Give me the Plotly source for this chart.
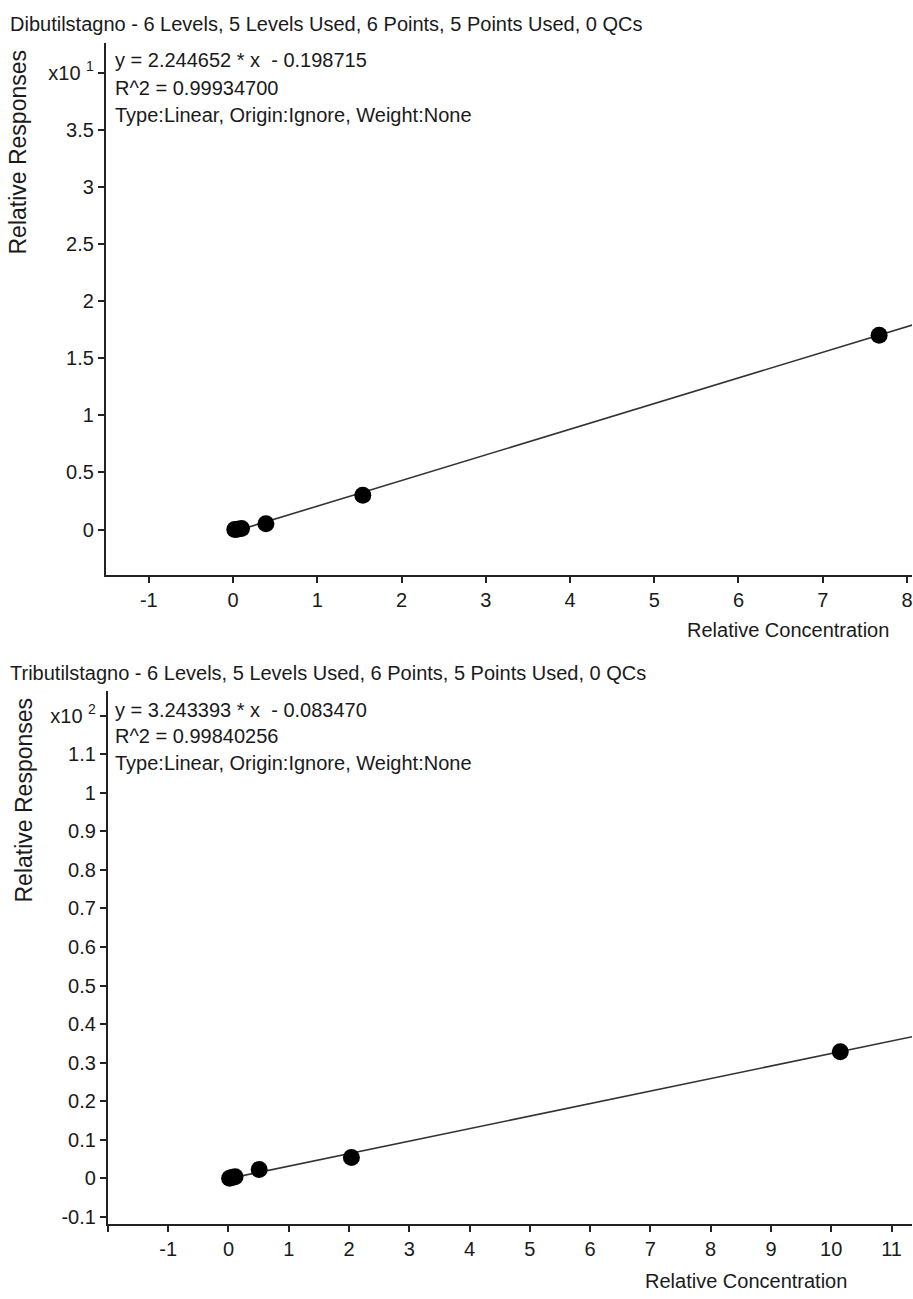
import plotly.graph_objects as go

W, H = 913, 1299

# ---- Data: Dibutilstagno (y axis in x10^1) ----
dbt_x = [0.02, 0.05, 0.10, 0.39, 1.54, 7.67]
dbt_y = [0.000, 0.002, 0.010, 0.050, 0.300, 1.700]
dbt_slope, dbt_int, dbt_scale = 2.244652, -0.198715, 10.0

# ---- Data: Tributilstagno (y axis in x10^2) ----
tbt_x = [0.02, 0.06, 0.11, 0.51, 2.04, 10.15]
tbt_y = [0.000, 0.002, 0.004, 0.023, 0.054, 0.328]
tbt_slope, tbt_int, tbt_scale = 3.243393, -0.083470, 100.0

dbt_yticks = [0, 0.5, 1, 1.5, 2, 2.5, 3, 3.5, 4]
dbt_yticktext = ["0", "0.5", "1", "1.5", "2", "2.5", "3", "3.5", "x10 <sup>1</sup>"]
dbt_xticks = [-1, 0, 1, 2, 3, 4, 5, 6, 7, 8]
dbt_xticktext = ["-1", "0", "1", "2", "3", "4", "5", "6", "7", "8"]

tbt_yticks = [-0.1, 0, 0.1, 0.2, 0.3, 0.4, 0.5, 0.6, 0.7, 0.8, 0.9, 1, 1.1, 1.2]
tbt_yticktext = ["-0.1", "0", "0.1", "0.2", "0.3", "0.4", "0.5", "0.6", "0.7", "0.8",
                 "0.9", "1", "1.1", "x10 <sup>2</sup>"]
tbt_xticks = list(range(-1, 12))
tbt_xticktext = ["-1", "0", "1", "2", "3", "4", "5", "6", "7", "8", "9", "10", "11"]

FONT = "Liberation Sans, Arial, sans-serif"
TXT = "#1a1a1a"
AX = "#222222"

fig = go.Figure()

# top fit line
lx1 = [min(dbt_x), 8.3]
fig.add_trace(go.Scatter(x=lx1, y=[(dbt_slope * v + dbt_int) / dbt_scale for v in lx1],
                         mode="lines", line=dict(color="#333333", width=1.6),
                         xaxis="x", yaxis="y", showlegend=False, hoverinfo="skip"))
fig.add_trace(go.Scatter(x=dbt_x, y=dbt_y, mode="markers",
                         marker=dict(color="black", size=17), xaxis="x", yaxis="y",
                         showlegend=False))
# bottom fit line
lx2 = [min(tbt_x), 11.6]
fig.add_trace(go.Scatter(x=lx2, y=[(tbt_slope * v + tbt_int) / tbt_scale for v in lx2],
                         mode="lines", line=dict(color="#333333", width=1.6),
                         xaxis="x2", yaxis="y2", showlegend=False, hoverinfo="skip"))
fig.add_trace(go.Scatter(x=tbt_x, y=tbt_y, mode="markers",
                         marker=dict(color="black", size=17), xaxis="x2", yaxis="y2",
                         showlegend=False))

def px_x(p):
    return p / W

def px_y(p):
    return 1 - p / H

axis_common = dict(showline=True, linecolor=AX, linewidth=2, ticks="outside",
                   ticklen=6, tickwidth=1.5, tickcolor=AX, showgrid=False,
                   zeroline=False, ticklabeloverflow="allow",
                   tickfont=dict(family=FONT, size=20, color=TXT))

fig.update_layout(
    width=W, height=H, margin=dict(l=0, r=0, t=0, b=0),
    paper_bgcolor="white", plot_bgcolor="white",
    xaxis=dict(domain=[px_x(106), 1], range=[-1.51, 8.06], anchor="y",
               tickvals=dbt_xticks, ticktext=dbt_xticktext, **axis_common),
    yaxis=dict(domain=[px_y(577), px_y(43)], range=[-0.40, 4.26], anchor="x",
               tickvals=dbt_yticks, ticktext=dbt_yticktext, **axis_common),
    xaxis2=dict(domain=[px_x(108), 1], range=[-2.0, 11.34], anchor="y2",
                tickvals=tbt_xticks, ticktext=tbt_xticktext,
                minor=dict(tickvals=[-2], ticks="outside", ticklen=6, tickwidth=1.5,
                           tickcolor=AX, showgrid=False),
                **axis_common),
    yaxis2=dict(domain=[px_y(1228), px_y(693)], range=[-0.119, 1.264], anchor="x2",
                tickvals=tbt_yticks, ticktext=tbt_yticktext, **axis_common),
)

def ann(text, x, y, xanchor="left", size=20, angle=0):
    fig.add_annotation(text=text, x=px_x(x), y=px_y(y), xref="paper", yref="paper",
                       xanchor=xanchor, yanchor="middle", showarrow=False,
                       textangle=angle, font=dict(family=FONT, size=size, color=TXT))

# top chart texts
ann("Dibutilstagno - 6 Levels, 5 Levels Used, 6 Points, 5 Points Used, 0 QCs", 8, 24)
ann("y = 2.244652 * x &nbsp;- 0.198715", 113, 60)
ann("R^2 = 0.99934700", 113, 88)
ann("Type:Linear, Origin:Ignore, Weight:None", 113, 115)
ann("Relative Concentration", 892, 632, xanchor="right")
ann("Relative Responses", 18, 152, xanchor="center", size=23, angle=-90)

# bottom chart texts
ann("Tributilstagno - 6 Levels, 5 Levels Used, 6 Points, 5 Points Used, 0 QCs", 8, 675)
ann("y = 3.243393 * x &nbsp;- 0.083470", 113, 712)
ann("R^2 = 0.99840256", 113, 738)
ann("Type:Linear, Origin:Ignore, Weight:None", 113, 765)
ann("Relative Concentration", 850, 1285, xanchor="right")
ann("Relative Responses", 24, 802, xanchor="center", size=23, angle=-90)

fig.write_html("out.html", config={"displayModeBar": False},
               post_script="document.body.style.margin='0';document.body.style.overflow='hidden';")
